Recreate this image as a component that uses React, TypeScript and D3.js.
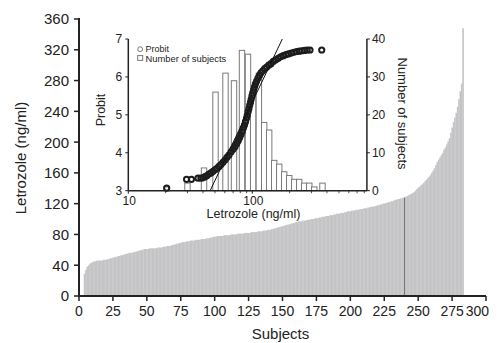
import React from "react";
import * as d3 from "d3";

// ---- Main chart data: sorted letrozole concentration per subject ----
const subjectStart = 4;
const letrozole = [
  29, 34, 38, 40, 42, 43, 44, 45, 45, 46,
  46, 46, 46, 46, 47, 47, 47, 48, 48, 49,
  49, 50, 50, 51, 51, 52, 52, 53, 53, 54,
  54, 55, 55, 56, 56, 56, 57, 57, 58, 58,
  59, 59, 60, 60, 61, 61, 61, 61, 62, 62,
  62, 62, 62, 62, 63, 63, 63, 63, 64, 64,
  64, 65, 65, 65, 66, 66, 67, 67, 68, 68,
  69, 69, 70, 70, 70, 71, 71, 71, 72, 72,
  72, 72, 73, 73, 73, 73, 74, 74, 74, 74,
  75, 75, 75, 76, 76, 77, 77, 77, 78, 78,
  78, 78, 78, 79, 79, 79, 79, 79, 80, 80,
  80, 80, 80, 81, 81, 81, 81, 81, 82, 82,
  82, 82, 82, 83, 83, 83, 83, 83, 84, 84,
  84, 84, 85, 85, 85, 86, 86, 86, 87, 87,
  88, 88, 89, 89, 90, 90, 91, 91, 92, 92,
  93, 93, 94, 94, 95, 95, 96, 96, 97, 97,
  97, 98, 98, 98, 99, 99, 99, 100, 100, 100,
  101, 101, 101, 102, 102, 103, 103, 103, 104, 104,
  104, 105, 105, 105, 106, 106, 107, 107, 107, 108,
  108, 108, 109, 109, 110, 110, 110, 111, 111, 111,
  112, 112, 112, 113, 113, 113, 114, 114, 114, 115,
  115, 116, 116, 116, 117, 117, 118, 118, 119, 119,
  120, 120, 121, 121, 122, 122, 123, 123, 124, 125,
  125, 126, 126, 127, 127, 128, 128, 129, 130, 131,
  132, 133, 134, 135, 137, 139,
  141, 142, 144, 145, 147, 149, 151, 153, 155, 157,
  160, 163, 166, 170, 174, 177, 180, 183, 186, 190,
  193, 197, 201, 205, 212, 219, 226, 232, 238, 246,
  256, 266, 276, 348,
];
const darkSubjects = [240];
const yTicks = [0, 40, 80, 120, 160, 200, 240, 280, 320, 360];
const xTicks = [0, 25, 50, 75, 100, 125, 150, 175, 200, 225, 250, 275, 300];

// ---- Inset: histogram ----
const histConc = [20.4, 30.0, 40.8, 50.5, 60.8, 71.2, 82.6, 92.3, 101.6, 113, 124.7, 136.8, 150.2, 164.9, 180.9, 198.5, 217.8, 239, 262, 288, 316, 368];
const histCount = [1, 2, 6, 26, 31, 29, 37, 36, 26, 31, 18, 16, 8, 7, 5, 4, 3, 3, 2, 2, 1, 2];

// ---- Inset: probit points ----
const probitConc = [
  20.4, 29.5, 32.3, 36.5, 38.5,
  40.04, 41.55, 43.12, 44.76, 46.45, 48.21, 50.04, 51.93, 53.89, 55.93,
  58.04, 60.24, 62.52, 64.88, 67.33, 69.88, 72.52, 74.85, 76.96, 79.14,
  81.07, 83.06, 84.76, 86.51, 88.13, 89.78, 91.13, 92.49, 93.88, 95.28,
  96.72, 97.97, 99.45, 100.9, 102.5, 104.2, 106.1, 108.5, 111.2, 114.3,
  117.5, 121.5, 125.9, 130.7, 135.9, 141.5, 147.7, 154.4, 161.8, 169.4,
  177.8, 187.0, 196.2, 206.3, 217.0, 228.1, 239.8, 251.6, 264.1, 277.2,
  292.0, 363,
];
const probitVal = [
  3.07, 3.30, 3.30, 3.33, 3.33,
  3.34, 3.37, 3.40, 3.44, 3.47, 3.51, 3.55, 3.59, 3.64, 3.69,
  3.75, 3.81, 3.88, 3.94, 4.02, 4.09, 4.16, 4.24, 4.32, 4.40,
  4.48, 4.56, 4.65, 4.73, 4.82, 4.91, 4.99, 5.08, 5.16, 5.25,
  5.33, 5.41, 5.50, 5.58, 5.66, 5.74, 5.82, 5.89, 5.97, 6.04,
  6.11, 6.16, 6.22, 6.26, 6.31, 6.35, 6.41, 6.45, 6.49, 6.53,
  6.56, 6.59, 6.61, 6.63, 6.65, 6.67, 6.68, 6.69, 6.70, 6.71,
  6.71, 6.71,
];
const fitConc = [45.7, 174.6];
const fitProbit = [3.0, 7.0];
const probitTicks = [3, 4, 5, 6, 7];
const countTicks = [0, 10, 20, 30, 40];
const logMajor = [10, 100];
const logMinor = [20, 30, 40, 50, 60, 70, 80, 90, 200, 300, 400, 500, 600, 700, 800];

const FONT = "'Liberation Sans', Arial, Helvetica, sans-serif";
const INK = "#222";

export default function App() {
  const x = d3.scaleLinear().domain([0, 300]).range([79, 486]);
  const y = d3.scaleLinear().domain([0, 360]).range([296, 19]);
  const bw = x(1) - x(0);

  const ix = d3.scaleLog().domain([10, 1000]).range([128.3, 376.3]);
  const ip = d3.scaleLinear().domain([3, 7]).range([190.7, 39]);
  const ic = d3.scaleLinear().domain([0, 40]).range([190.7, 39]);
  const insetLeft = ix(10);
  const insetRight = ix(840);
  const insetBottom = ip(3);
  const insetTop = ip(7);
  const hb = 5.4;

  const fitLine = d3
    .line<number>()
    .x((_, i) => ix(fitConc[i]))
    .y((_, i) => ip(fitProbit[i]));

  return (
    <svg
      width={500}
      height={343}
      style={{ position: "absolute", left: 0, top: 0, background: "#fff" }}
      fontFamily={FONT}
    >
      {/* main bars */}
      <g>
        {letrozole.map((v, i) => {
          const s = subjectStart + i;
          return (
            <rect
              key={s}
              x={x(s) - bw / 2}
              y={y(v)}
              width={bw + 0.25}
              height={y(0) - y(v)}
              fill="#c4c4c6"
            />
          );
        })}
        {darkSubjects.map((s) => {
          const v = letrozole[s - subjectStart];
          return (
            <line key={s} x1={x(s)} x2={x(s)} y1={y(v)} y2={y(0)} stroke="#666" strokeWidth={0.9} />
          );
        })}
      </g>

      {/* main axes */}
      <line x1={x(0)} x2={x(0)} y1={y(360) - 1} y2={y(0) + 1} stroke={INK} strokeWidth={2} />
      <line x1={x(0) - 1} x2={x(300)} y1={y(0)} y2={y(0)} stroke={INK} strokeWidth={2} />
      {yTicks.map((t) => (
        <g key={t}>
          <line x1={x(0) - 5} x2={x(0)} y1={y(t)} y2={y(t)} stroke={INK} strokeWidth={1.5} />
          <text x={x(0) - 10} y={y(t)} dy="0.36em" textAnchor="end" fontSize={15} fill={INK}>
            {t}
          </text>
        </g>
      ))}
      {xTicks.map((t, i) => (
        <g key={t}>
          <line x1={x(t)} x2={x(t)} y1={y(0)} y2={y(0) + 5} stroke={INK} strokeWidth={1.5} />
          <text
            x={i === xTicks.length - 1 ? x(t) + 3 : x(t)}
            y={316}
            textAnchor={i === xTicks.length - 1 ? "end" : "middle"}
            fontSize={14}
            fill={INK}
          >
            {t}
          </text>
        </g>
      ))}
      <text x={(x(0) + x(300)) / 2 - 2} y={339} textAnchor="middle" fontSize={15} fill={INK}>
        Subjects
      </text>
      <text
        transform={`translate(26, ${(y(0) + y(360)) / 2 + 0.5}) rotate(-90)`}
        textAnchor="middle"
        fontSize={15}
        fill={INK}
      >
        Letrozole (ng/ml)
      </text>

      {/* inset histogram */}
      <g>
        {histConc.map((c, i) => (
          <rect
            key={i}
            x={ix(c) - hb / 2}
            y={ic(histCount[i])}
            width={hb}
            height={ic(0) - ic(histCount[i])}
            fill="#fff"
            stroke="#7a7a7a"
            strokeWidth={1}
          />
        ))}
      </g>

      {/* probit points */}
      <g>
        {probitConc.map((c, i) => (
          <circle
            key={i}
            cx={ix(c)}
            cy={ip(probitVal[i])}
            r={2.6}
            fill="none"
            stroke="#1c1c1c"
            strokeWidth={2}
          />
        ))}
      </g>
      <path d={fitLine(fitConc) || ""} stroke="#111" strokeWidth={1} fill="none" />

      {/* inset axes */}
      <line x1={insetLeft} x2={insetLeft} y1={insetTop} y2={insetBottom} stroke={INK} strokeWidth={1.5} />
      <line x1={insetRight} x2={insetRight} y1={insetTop} y2={insetBottom} stroke={INK} strokeWidth={1.5} />
      <line x1={insetLeft} x2={insetRight} y1={insetBottom} y2={insetBottom} stroke={INK} strokeWidth={1.5} />
      {probitTicks.map((t) => (
        <g key={t}>
          <line x1={insetLeft - 3} x2={insetLeft} y1={ip(t)} y2={ip(t)} stroke={INK} strokeWidth={1} />
          <text x={insetLeft - 6} y={ip(t)} dy="0.36em" textAnchor="end" fontSize={12} fill={INK}>
            {t}
          </text>
        </g>
      ))}
      {countTicks.map((t) => (
        <g key={t}>
          <line x1={insetRight} x2={insetRight + 3} y1={ic(t)} y2={ic(t)} stroke={INK} strokeWidth={1} />
          <text x={insetRight + 5} y={ic(t)} dy="0.36em" textAnchor="start" fontSize={12} fill={INK}>
            {t}
          </text>
        </g>
      ))}
      {logMajor.map((t) => (
        <g key={t}>
          <line x1={ix(t)} x2={ix(t)} y1={insetBottom} y2={insetBottom + 3} stroke={INK} strokeWidth={1} />
          <text x={ix(t) + 1} y={204.5} textAnchor="middle" fontSize={12} fill={INK}>
            {t}
          </text>
        </g>
      ))}
      {logMinor.map((t) => (
        <line key={t} x1={ix(t)} x2={ix(t)} y1={insetBottom} y2={insetBottom + 2.5} stroke={INK} strokeWidth={0.8} />
      ))}
      <text x={253.5} y={217.5} textAnchor="middle" fontSize={12.5} fill={INK}>
        Letrozole (ng/ml)
      </text>
      <text transform="translate(105, 110) rotate(-90)" textAnchor="middle" fontSize={12.5} fill={INK}>
        Probit
      </text>
      <text transform="translate(397.5, 113.5) rotate(90)" textAnchor="middle" fontSize={13} fill={INK}>
        Number of subjects
      </text>

      {/* inset legend */}
      <circle cx={140.2} cy={49.2} r={2.4} fill="none" stroke="#777" strokeWidth={1} />
      <text x={145.5} y={51.9} fontSize={9} fill={INK}>
        Probit
      </text>
      <rect x={137.7} y={55.6} width={5} height={4.8} fill="#fff" stroke="#777" strokeWidth={1} />
      <text x={145.5} y={62} fontSize={9.4} fill={INK}>
        Number of subjects
      </text>
    </svg>
  );
}
